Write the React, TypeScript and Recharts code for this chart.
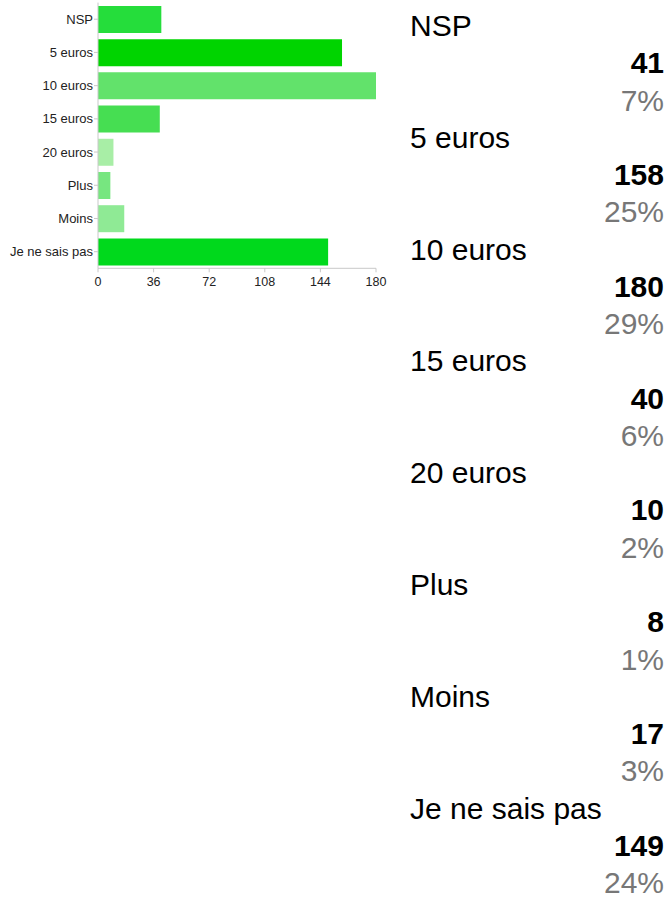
import { BarChart, Bar, XAxis, YAxis, Cell } from "recharts";

const categories = [
  "NSP",
  "5 euros",
  "10 euros",
  "15 euros",
  "20 euros",
  "Plus",
  "Moins",
  "Je ne sais pas",
];
const counts = [41, 158, 180, 40, 10, 8, 17, 149];
const percents = ["7%", "25%", "29%", "6%", "2%", "1%", "3%", "24%"];
const xTicks = [0, 36, 72, 108, 144, 180];

const barColors = [
  "#25dd3b",
  "#00d400",
  "#62e26b",
  "#46de52",
  "#a8eea6",
  "#77e680",
  "#8fea95",
  "#00d91c",
];

const rows = categories.map((name, i) => ({ name, value: counts[i] }));

export default function App() {
  return (
    <div
      style={{
        position: "absolute",
        left: 0,
        top: 0,
        width: 672,
        height: 900,
        background: "#fff",
        fontFamily: "'Liberation Sans', Arial, sans-serif",
      }}
    >
      <div style={{ position: "absolute", left: 0, top: 0 }}>
        <BarChart
          width={400}
          height={300}
          data={rows}
          layout="vertical"
          margin={{ top: 2.6, right: 24, bottom: 0, left: 0 }}
          barCategoryGap="10%"
        >
          <XAxis
            type="number"
            domain={[0, 180]}
            ticks={xTicks}
            height={31.7}
            tickSize={4}
            tickMargin={5}
            stroke="#c8c8c8"
            tick={{ fill: "#222", fontSize: 12.5 }}
          />
          <YAxis
            type="category"
            dataKey="name"
            width={98}
            interval={0}
            tickSize={4}
            tickMargin={1}
            stroke="#c8c8c8"
            tick={{ fill: "#222", fontSize: 13 }}
          />
          <Bar dataKey="value" isAnimationActive={false}>
            {rows.map((r, i) => (
              <Cell key={r.name} fill={barColors[i]} />
            ))}
          </Bar>
        </BarChart>
      </div>

      <div
        style={{
          position: "absolute",
          left: 410,
          top: 7,
          width: 254,
          fontSize: 30,
          lineHeight: "37.26px",
        }}
      >
        {categories.map((name, i) => (
          <div key={name}>
            <div style={{ color: "#000", whiteSpace: "nowrap" }}>{name}</div>
            <div style={{ textAlign: "right", fontWeight: "bold", color: "#000" }}>
              {counts[i]}
            </div>
            <div style={{ textAlign: "right", color: "#777" }}>{percents[i]}</div>
          </div>
        ))}
      </div>
    </div>
  );
}
